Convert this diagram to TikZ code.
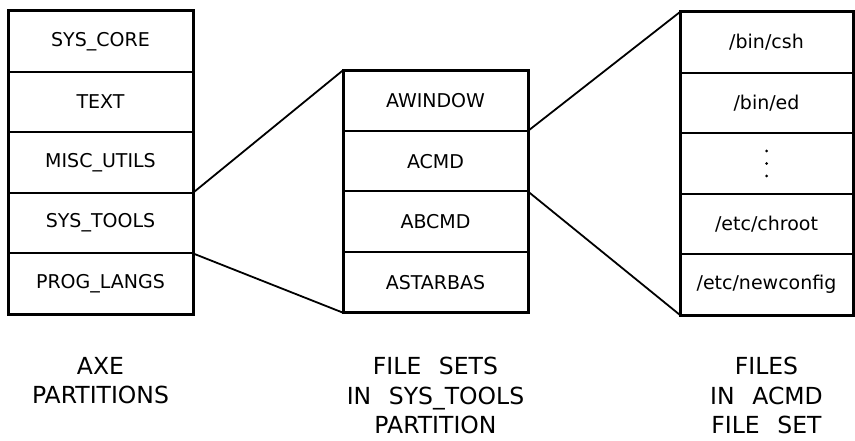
\documentclass[tikz,border=0pt]{standalone}
\usepackage{fontspec}
\setmainfont{DejaVu Sans}
\newcommand{\wsp}{\hspace{0.75em}}
\begin{document}
\begin{tikzpicture}[x=1pt,y=-1pt,
  cell/.style={draw,line width=2pt,minimum height=60.6pt,inner sep=0pt,outer sep=0pt,
    font=\fontsize{19}{21}\selectfont},
  lcell/.style={cell,minimum width=185pt},
  mcell/.style={cell,minimum width=185pt},
  rcell/.style={cell,minimum width=173pt},
  frame/.style={line width=3pt},
  link/.style={line width=1.8pt},
  dot/.style={fill,circle,inner sep=0pt,minimum size=3pt},
  caption/.style={anchor=north,inner sep=0pt,align=center,
    font=\fontsize{23.5}{29.5}\selectfont}]
\useasboundingbox (0,0) rectangle (855,441);

% partitions
\node[lcell] (L1) at (100.5,41.3) {SYS\_CORE};
\node[lcell] (L2) at (100.5,101.9) {TEXT};
\node[lcell] (L3) at (100.5,162.5) {MISC\_UTILS};
\node[lcell] (L4) at (100.5,223.1) {SYS\_TOOLS};
\node[lcell] (L5) at (100.5,283.7) {PROG\_LANGS};
\draw[frame] (L1.north west) rectangle (L5.south east);

% file sets
\node[mcell] (M1) at (435.5,100.6) {AWINDOW};
\node[mcell] (M2) at (435.5,161.2) {ACMD};
\node[mcell] (M3) at (435.5,221.8) {ABCMD};
\node[mcell] (M4) at (435.5,282.4) {ASTARBAS};
\draw[frame] (M1.north west) rectangle (M4.south east);

% files
\node[rcell] (R1) at (766.5,42.3) {/bin/csh};
\node[rcell] (R2) at (766.5,102.9) {/bin/ed};
\node[rcell] (R3) at (766.5,163.5) {};
\node[rcell] (R4) at (766.5,224.1) {/etc/chroot};
\node[rcell] (R5) at (766.5,284.7) {/etc/newconfig};
\draw[frame] (R1.north west) rectangle (R5.south east);
% vertical ellipsis in the elided row
\node[dot] (d1) at ([yshift=12.5pt]R3.center) {};
\node[dot] (d2) at (R3.center) {};
\node[dot] (d3) at ([yshift=-12.5pt]R3.center) {};

% expansion lines
\draw[link] (L4.north east) -- (M1.north west);
\draw[link] (L4.south east) -- (M4.south west);
\draw[link] (M2.north east) -- (R1.north west);
\draw[link] (M3.north east) -- (R5.south west);

% captions
\node[caption] (cL) at (100.5,357) {AXE\\PARTITIONS};
\node[caption] (cM) at (435.5,357) {FILE\wsp SETS\\IN\wsp SYS\_TOOLS\\PARTITION};
\node[caption] (cR) at (766.5,357) {FILES\\IN\wsp ACMD\\FILE\wsp SET};
\end{tikzpicture}
\end{document}
